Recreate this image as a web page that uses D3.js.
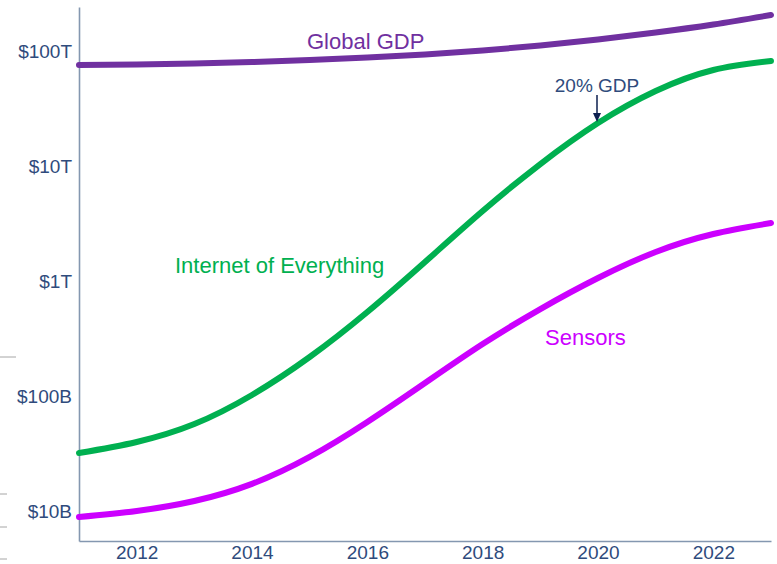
<!DOCTYPE html>
<html>
<head>
<meta charset="utf-8">
<script src="https://cdn.jsdelivr.net/npm/d3@7"></script>
<style>
  html, body { margin: 0; padding: 0; background: #fff; }
  svg { display: block; font-family: "Liberation Sans", Arial, sans-serif; }
</style>
</head>
<body>
<svg id="chart" width="777" height="564"></svg>
<script>
// ---- data (values in billions of US$) ----
const years = [2011, 2012, 2013, 2014, 2015, 2016, 2017, 2018, 2019, 2020, 2021, 2022, 2023];
const globalGDP = [75490, 76260, 77800, 80170, 83450, 87720, 93160, 100900, 111600, 125800, 144700, 169900, 205400];
const internetOfEverything = [31.9, 39.8, 57, 102, 218, 537, 1462, 4059, 10400, 23640, 44850, 68320, 81780];
const sensors = [8.86, 9.99, 12.2, 17.2, 29.5, 59.4, 129.6, 283, 570, 1061, 1786, 2561, 3192];
const yTickValues = [10, 100, 1000, 10000, 100000];
const yTickLabels = ["$10B", "$100B", "$1T", "$10T", "$100T"];
const xTickValues = [2012, 2014, 2016, 2018, 2020, 2022];
const seriesNames = ["Global GDP", "Internet of Everything", "Sensors"];
const annotationYear = 2020;
const annotationText = "20% GDP";

const svg = d3.select("#chart");
const axisColor = "#8497b0";
const textColor = "#2f4b7c";
const font = "'Liberation Sans', Arial, sans-serif";

const x = d3.scaleLinear().domain([2011, 2023]).range([79, 771]);
const y = d3.scaleLog().domain([5.48, 241300]).range([541, 7]);

// stray tick marks at far left
[[357, 16], [494, 7], [527, 7], [559, 7]].forEach(([yy, w]) => {
  svg.append("line").attr("x1", 0).attr("x2", w).attr("y1", yy).attr("y2", yy)
    .attr("stroke", "#a6a6a6").attr("stroke-width", 1);
});

// axes
const yAxis = d3.axisLeft(y).tickValues(yTickValues)
  .tickFormat((d, i) => yTickLabels[i]).tickSize(0).tickPadding(7);
const gy = svg.append("g").attr("transform", `translate(${x(2011)},0)`).call(yAxis);
gy.select(".domain").attr("stroke", axisColor).attr("stroke-width", 1.6);
gy.selectAll("text").attr("fill", textColor).style("font-size", "19px").style("font-family", font);

const xAxis = d3.axisBottom(x).tickValues(xTickValues).tickFormat(d3.format("d"))
  .tickSize(0).tickPadding(5);
const gx = svg.append("g").attr("transform", `translate(0,${y.range()[0]})`).call(xAxis);
gx.select(".domain").attr("stroke", axisColor).attr("stroke-width", 1.6);
gx.selectAll("text").attr("fill", textColor).style("font-size", "19px").style("font-family", font);

// lines
const line = d3.line().x(d => x(d[0])).y(d => y(d[1])).curve(d3.curveNatural);
const series = [
  { name: seriesNames[0], values: globalGDP, color: "#7030a0" },
  { name: seriesNames[1], values: internetOfEverything, color: "#00b050" },
  { name: seriesNames[2], values: sensors, color: "#cc00ff" }
];
series.forEach(s => {
  svg.append("path")
    .datum(years.map((yr, i) => [yr, s.values[i]]))
    .attr("d", line)
    .attr("fill", "none")
    .attr("stroke", s.color)
    .attr("stroke-width", 6)
    .attr("stroke-linecap", "round");
});

// series labels
svg.append("text").attr("x", 307).attr("y", 49).text(seriesNames[0])
  .attr("fill", "#7030a0").style("font-size", "22px").style("font-family", font);
svg.append("text").attr("x", 175).attr("y", 273).text(seriesNames[1])
  .attr("fill", "#00b050").style("font-size", "22px").style("font-family", font);
svg.append("text").attr("x", 545).attr("y", 345).text(seriesNames[2])
  .attr("fill", "#cc00ff").style("font-size", "22px").style("font-family", font);

// annotation
const ax = x(annotationYear) - 1;
const ay = y(internetOfEverything[years.indexOf(annotationYear)]);
svg.append("text").attr("x", ax).attr("y", 92).attr("text-anchor", "middle")
  .text(annotationText).attr("fill", textColor)
  .style("font-size", "19px").style("font-family", font);
svg.append("line").attr("x1", ax).attr("x2", ax).attr("y1", 95).attr("y2", ay - 8)
  .attr("stroke", "#0d1f4f").attr("stroke-width", 1.5);
svg.append("path")
  .attr("d", `M${ax - 4},${ay - 10} L${ax + 4},${ay - 10} L${ax},${ay - 1} Z`)
  .attr("fill", "#0d1f4f");
</script>
</body>
</html>
